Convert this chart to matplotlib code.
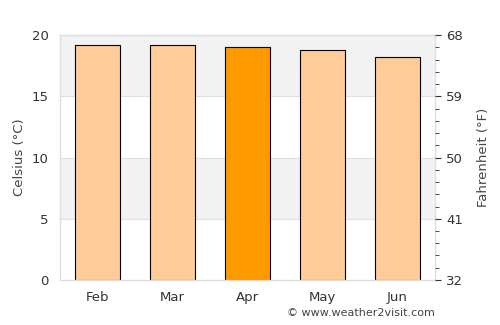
import matplotlib
matplotlib.use("Agg")
import matplotlib.pyplot as plt
import numpy as np

# monthly average temperature, Celsius
months = ["Feb", "Mar", "Apr", "May", "Jun"]
temps_c = [19.2, 19.2, 19.0, 18.75, 18.2]
highlight = "Apr"

c_ticks = [0, 5, 10, 15, 20]
f_labels = ["32", "41", "50", "59", "68"]

fig = plt.figure(figsize=(5, 3.25), dpi=100)
ax = fig.add_axes([0.12, 0.1385, 0.75, 0.7535])

# alternating background bands
for lo, hi in [(5, 10), (15, 20)]:
    ax.axhspan(lo, hi, color="#f2f2f2", zorder=0, lw=0)
for y in c_ticks[1:-1]:
    ax.axhline(y, color="#e0e0e0", lw=0.8, zorder=0.5)

x = np.arange(len(months))
colors = ["#ff9900" if m == highlight else "#ffcc99" for m in months]
ax.bar(x, temps_c, width=0.6, color=colors, edgecolor="black", linewidth=0.8, zorder=2)

ax.set_xlim(-0.5, len(months) - 0.5)
ax.set_ylim(0, 20)
ax.set_xticks(x)
ax.set_xticklabels(months)
ax.set_yticks(c_ticks)
ax.set_ylabel("Celsius (°C)", color="#444444", fontsize=9.5)
ax.tick_params(axis="both", colors="#333333", labelsize=9.5, length=0, pad=8)
ax.tick_params(axis="x", pad=8)
for side, sp in ax.spines.items():
    sp.set_color("#dddddd")
    sp.set_linewidth(1)

ax2 = ax.twinx()
ax2.set_ylim(0, 20)
ax2.set_yticks(c_ticks)
ax2.set_yticklabels(f_labels)
ax2.set_yticks(np.arange(0, 21, 1), minor=True)
ax2.tick_params(axis="y", which="major", colors="#333333", labelsize=9.5, length=4, pad=4)
ax2.tick_params(axis="y", which="minor", colors="#333333", length=3)
ax2.set_ylabel("Fahrenheit (°F)", color="#444444", fontsize=9.5, labelpad=10)
for sp in ax2.spines.values():
    sp.set_visible(False)

fig.text(0.87, 0.02, "© www.weather2visit.com", ha="right", va="bottom",
         fontsize=8, color="#444444")

fig.savefig("out.png", dpi=100)
